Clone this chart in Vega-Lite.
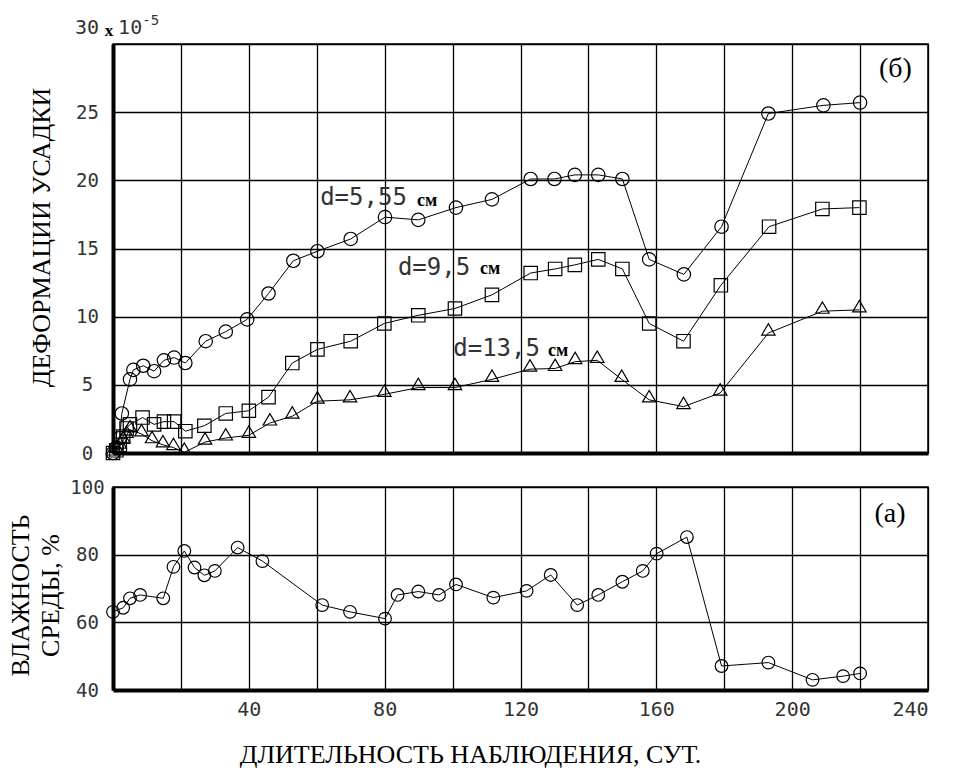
{
  "$schema": "https://vega.github.io/schema/vega-lite/v6.json",
  "background": "white",
  "padding": {"left": 6, "top": 13, "right": 5, "bottom": 5},
  "bounds": "flush",
  "spacing": 34,
  "config": {
    "view": {"stroke": "black", "strokeWidth": 1.5},
    "axis": {
      "domainColor": "black", "domainWidth": 4,
      "grid": true, "gridColor": "black", "gridWidth": 1.3, "gridOpacity": 1,
      "ticks": false, "tickSize": 0,
      "labelFont": "DejaVu Sans Mono", "labelFontSize": 19, "labelColor": "#333",
      "titleFont": "Liberation Serif", "titleFontSize": 26, "titleFontWeight": "normal", "titleColor": "black"
    }
  },
  "datasets": {
    "shrink": [
      {"d": "5,55", "t": 0, "v": 0}, {"d": "5,55", "t": 1, "v": 0.4}, {"d": "5,55", "t": 2, "v": 1.1}, {"d": "5,55", "t": 2.6, "v": 2.9},
      {"d": "5,55", "t": 5, "v": 5.4}, {"d": "5,55", "t": 6, "v": 6.1}, {"d": "5,55", "t": 8.9, "v": 6.4}, {"d": "5,55", "t": 12.1, "v": 6.0},
      {"d": "5,55", "t": 15, "v": 6.8}, {"d": "5,55", "t": 18, "v": 7.0}, {"d": "5,55", "t": 21.3, "v": 6.6}, {"d": "5,55", "t": 27.3, "v": 8.2},
      {"d": "5,55", "t": 33.2, "v": 8.9}, {"d": "5,55", "t": 39.5, "v": 9.8}, {"d": "5,55", "t": 45.8, "v": 11.7}, {"d": "5,55", "t": 53.1, "v": 14.1},
      {"d": "5,55", "t": 60.2, "v": 14.8}, {"d": "5,55", "t": 70, "v": 15.7}, {"d": "5,55", "t": 80.1, "v": 17.3}, {"d": "5,55", "t": 89.9, "v": 17.1},
      {"d": "5,55", "t": 101, "v": 18.0}, {"d": "5,55", "t": 111.6, "v": 18.6}, {"d": "5,55", "t": 123, "v": 20.1}, {"d": "5,55", "t": 130, "v": 20.1},
      {"d": "5,55", "t": 136, "v": 20.4}, {"d": "5,55", "t": 142.9, "v": 20.4}, {"d": "5,55", "t": 150, "v": 20.1}, {"d": "5,55", "t": 157.9, "v": 14.2},
      {"d": "5,55", "t": 168.1, "v": 13.1}, {"d": "5,55", "t": 179.2, "v": 16.6}, {"d": "5,55", "t": 193, "v": 24.9}, {"d": "5,55", "t": 209.2, "v": 25.5},
      {"d": "5,55", "t": 220, "v": 25.7},
      {"d": "9,5", "t": 0, "v": 0}, {"d": "9,5", "t": 1, "v": 0.2}, {"d": "9,5", "t": 2, "v": 0.6}, {"d": "9,5", "t": 3, "v": 1.2},
      {"d": "9,5", "t": 4, "v": 1.8}, {"d": "9,5", "t": 5, "v": 2.1}, {"d": "9,5", "t": 8.7, "v": 2.6}, {"d": "9,5", "t": 12.1, "v": 2.1},
      {"d": "9,5", "t": 15, "v": 2.3}, {"d": "9,5", "t": 18, "v": 2.3}, {"d": "9,5", "t": 21.3, "v": 1.6}, {"d": "9,5", "t": 26.9, "v": 2.0},
      {"d": "9,5", "t": 33.2, "v": 2.9}, {"d": "9,5", "t": 40, "v": 3.1}, {"d": "9,5", "t": 45.8, "v": 4.1}, {"d": "9,5", "t": 52.8, "v": 6.6},
      {"d": "9,5", "t": 60.2, "v": 7.6}, {"d": "9,5", "t": 70, "v": 8.2}, {"d": "9,5", "t": 79.9, "v": 9.5}, {"d": "9,5", "t": 89.9, "v": 10.1},
      {"d": "9,5", "t": 100.7, "v": 10.6}, {"d": "9,5", "t": 111.6, "v": 11.6}, {"d": "9,5", "t": 123, "v": 13.2}, {"d": "9,5", "t": 130.2, "v": 13.5},
      {"d": "9,5", "t": 136, "v": 13.8}, {"d": "9,5", "t": 142.9, "v": 14.2}, {"d": "9,5", "t": 150, "v": 13.5}, {"d": "9,5", "t": 157.9, "v": 9.5},
      {"d": "9,5", "t": 168, "v": 8.2}, {"d": "9,5", "t": 179, "v": 12.3}, {"d": "9,5", "t": 193.2, "v": 16.6}, {"d": "9,5", "t": 208.9, "v": 17.9},
      {"d": "9,5", "t": 219.8, "v": 18.0},
      {"d": "13,5", "t": 0, "v": 0}, {"d": "13,5", "t": 1, "v": 0.2}, {"d": "13,5", "t": 2, "v": 0.5}, {"d": "13,5", "t": 3, "v": 0.9},
      {"d": "13,5", "t": 4, "v": 1.3}, {"d": "13,5", "t": 5, "v": 1.7}, {"d": "13,5", "t": 8.4, "v": 1.4}, {"d": "13,5", "t": 11.5, "v": 0.9},
      {"d": "13,5", "t": 14.7, "v": 0.6}, {"d": "13,5", "t": 17.8, "v": 0.4}, {"d": "13,5", "t": 21, "v": 0.05}, {"d": "13,5", "t": 27.1, "v": 0.8},
      {"d": "13,5", "t": 33.2, "v": 1.1}, {"d": "13,5", "t": 40, "v": 1.3}, {"d": "13,5", "t": 46.2, "v": 2.2}, {"d": "13,5", "t": 52.8, "v": 2.7},
      {"d": "13,5", "t": 60.2, "v": 3.8}, {"d": "13,5", "t": 69.8, "v": 3.9}, {"d": "13,5", "t": 79.9, "v": 4.3}, {"d": "13,5", "t": 89.9, "v": 4.8},
      {"d": "13,5", "t": 100.7, "v": 4.8}, {"d": "13,5", "t": 111.6, "v": 5.4}, {"d": "13,5", "t": 122.8, "v": 6.15}, {"d": "13,5", "t": 130.2, "v": 6.2},
      {"d": "13,5", "t": 136.1, "v": 6.7}, {"d": "13,5", "t": 142.6, "v": 6.8}, {"d": "13,5", "t": 149.8, "v": 5.4}, {"d": "13,5", "t": 157.9, "v": 3.9},
      {"d": "13,5", "t": 168, "v": 3.4}, {"d": "13,5", "t": 178.8, "v": 4.4}, {"d": "13,5", "t": 193, "v": 8.8}, {"d": "13,5", "t": 208.9, "v": 10.4},
      {"d": "13,5", "t": 219.8, "v": 10.5}
    ],
    "humidity": [
      {"t": 0, "h": 63.1}, {"t": 3, "h": 64.3}, {"t": 5, "h": 67.1}, {"t": 8, "h": 68.1}, {"t": 14.8, "h": 67.1},
      {"t": 17.8, "h": 76.4}, {"t": 21, "h": 81.1}, {"t": 24, "h": 76.2}, {"t": 26.9, "h": 73.9}, {"t": 30, "h": 75.2},
      {"t": 36.7, "h": 82.1}, {"t": 44, "h": 78.1}, {"t": 61.6, "h": 65.1}, {"t": 69.8, "h": 63.1}, {"t": 80.1, "h": 61.1},
      {"t": 83.8, "h": 68.1}, {"t": 89.9, "h": 69.1}, {"t": 96, "h": 68.1}, {"t": 101, "h": 71.2}, {"t": 112, "h": 67.3},
      {"t": 121.8, "h": 69.3}, {"t": 128.9, "h": 74.0}, {"t": 136.7, "h": 65.1}, {"t": 142.9, "h": 68.1}, {"t": 150, "h": 72.0},
      {"t": 156, "h": 75.2}, {"t": 160.1, "h": 80.3}, {"t": 169, "h": 85.2}, {"t": 179.2, "h": 47.1}, {"t": 193, "h": 48.1},
      {"t": 206, "h": 43.0}, {"t": 215, "h": 44.1}, {"t": 220, "h": 44.9}
    ],
    "notesTop": [
      {"kind": "mono", "t": 61.0, "v": 18.7, "txt": "d=5,55"},
      {"kind": "cm", "t": 89.5, "v": 18.5, "txt": "см"},
      {"kind": "mono", "t": 83.9, "v": 13.6, "txt": "d=9,5"},
      {"kind": "cm", "t": 108.1, "v": 13.5, "txt": "см"},
      {"kind": "mono", "t": 100.2, "v": 7.6, "txt": "d=13,5"},
      {"kind": "cm", "t": 128.1, "v": 7.5, "txt": "см"},
      {"kind": "small", "t": -11.2, "v": 31.2, "txt": "30"},
      {"kind": "x", "t": -2.4, "v": 30.95, "txt": "x"},
      {"kind": "small", "t": 1.5, "v": 31.2, "txt": "10"},
      {"kind": "sup", "t": 8.6, "v": 31.7, "txt": "-5"},
      {"kind": "tag", "t": 230.4, "v": 28.2, "txt": "(б)"}
    ],
    "notesBottom": [
      {"kind": "tag", "t": 228.8, "h": 92.0, "txt": "(а)"}
    ]
  },
  "vconcat": [
    {
      "width": 815,
      "height": 409,
      "encoding": {
        "x": {"field": "t", "type": "quantitative", "scale": {"domain": [0, 240], "nice": false, "zero": false},
          "axis": {"values": [0, 20, 40, 60, 80, 100, 120, 140, 160, 180, 200, 220, 240], "labels": false, "title": null}},
        "y": {"field": "v", "type": "quantitative", "scale": {"domain": [0, 30], "nice": false},
          "axis": {"values": [0, 5, 10, 15, 20, 25, 30], "labelExpr": "datum.value == 30 ? '' : datum.label",
            "labelAlign": "center", "labelBaseline": "middle", "labelPadding": 26,
            "title": "ДЕФОРМАЦИИ УСАДКИ", "titleAngle": -90, "titleX": -72, "titleY": 193,
            "titleAlign": "center", "titleBaseline": "middle"}}
      },
      "layer": [
        {"data": {"name": "shrink"}, "mark": {"type": "line", "color": "black", "strokeWidth": 1},
          "encoding": {"detail": {"field": "d"}}},
        {"data": {"name": "shrink"}, "mark": {"type": "point", "filled": false, "color": "black", "strokeWidth": 1.2, "size": 180, "opacity": 1},
          "encoding": {"shape": {"field": "d", "type": "nominal", "legend": null,
            "scale": {"domain": ["5,55", "9,5", "13,5"], "range": ["circle", "square", "M-1,0.3L1,0.3L0,-1.4Z"]}}}},
        {"data": {"name": "notesTop"}, "transform": [{"filter": "datum.kind == 'mono'"}],
          "mark": {"type": "text", "align": "left", "baseline": "middle", "font": "DejaVu Sans Mono", "fontSize": 24, "color": "#333"},
          "encoding": {"text": {"field": "txt"}}},
        {"data": {"name": "notesTop"}, "transform": [{"filter": "datum.kind == 'small'"}],
          "mark": {"type": "text", "align": "left", "baseline": "middle", "font": "DejaVu Sans Mono", "fontSize": 20, "color": "#333"},
          "encoding": {"text": {"field": "txt"}}},
        {"data": {"name": "notesTop"}, "transform": [{"filter": "datum.kind == 'sup'"}],
          "mark": {"type": "text", "align": "left", "baseline": "middle", "font": "DejaVu Sans Mono", "fontSize": 14, "color": "#333"},
          "encoding": {"text": {"field": "txt"}}},
        {"data": {"name": "notesTop"}, "transform": [{"filter": "datum.kind == 'x'"}],
          "mark": {"type": "text", "align": "left", "baseline": "middle", "font": "Liberation Serif", "fontWeight": "bold", "fontSize": 17, "color": "black"},
          "encoding": {"text": {"field": "txt"}}},
        {"data": {"name": "notesTop"}, "transform": [{"filter": "datum.kind == 'cm'"}],
          "mark": {"type": "text", "align": "left", "baseline": "middle", "font": "Liberation Serif", "fontWeight": "bold", "fontSize": 18, "color": "black"},
          "encoding": {"text": {"field": "txt"}}},
        {"data": {"name": "notesTop"}, "transform": [{"filter": "datum.kind == 'tag'"}],
          "mark": {"type": "text", "align": "center", "baseline": "middle", "font": "Liberation Serif", "fontSize": 28, "color": "black"},
          "encoding": {"text": {"field": "txt"}}}
      ]
    },
    {
      "width": 815,
      "height": 203,
      "encoding": {
        "x": {"field": "t", "type": "quantitative", "scale": {"domain": [0, 240], "nice": false, "zero": false},
          "axis": {"values": [0, 20, 40, 60, 80, 100, 120, 140, 160, 180, 200, 220, 240],
            "labelExpr": "datum.value % 40 == 0 && datum.value > 0 ? datum.label : ''",
            "labelPadding": 9, "labelFontSize": 20,
            "title": "ДЛИТЕЛЬНОСТЬ НАБЛЮДЕНИЯ, СУТ.", "titleX": 357, "titleY": 64, "titleAlign": "center", "titleBaseline": "middle"}},
        "y": {"field": "h", "type": "quantitative", "scale": {"domain": [40, 100], "nice": false, "zero": false},
          "axis": {"values": [40, 60, 80, 100], "labelAlign": "center", "labelBaseline": "middle", "labelPadding": 26,
            "title": ["ВЛАЖНОСТЬ", "СРЕДЫ, %"], "titleAngle": -90, "titleX": -93, "titleY": 108,
            "titleAlign": "center", "titleBaseline": "middle", "titleLineHeight": 30}}
      },
      "layer": [
        {"data": {"name": "humidity"}, "mark": {"type": "line", "color": "black", "strokeWidth": 1}, "encoding": {}},
        {"data": {"name": "humidity"}, "mark": {"type": "point", "filled": false, "color": "black", "strokeWidth": 1.2, "size": 160, "opacity": 1}, "encoding": {}},
        {"data": {"name": "notesBottom"},
          "mark": {"type": "text", "align": "center", "baseline": "middle", "font": "Liberation Serif", "fontSize": 28, "color": "black"},
          "encoding": {"text": {"field": "txt"}}}
      ]
    }
  ]
}
